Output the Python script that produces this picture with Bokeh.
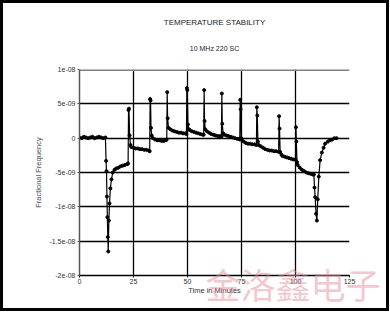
from bokeh.plotting import figure
from bokeh.models import FixedTicker, Span, Title, InlineStyleSheet
from bokeh.embed import file_html
from bokeh.resources import INLINE

# ---- data (time in minutes, fractional frequency in units of 1e-9) ----
time_min = [
    0, 1, 2, 3, 4, 5, 6, 7, 8, 9, 10, 11, 12,
    12.3, 12.5, 12.7, 12.9, 13.1, 13.3, 13.6, 13.9, 14.3, 14.8, 15.4, 16.2, 17, 18, 19, 20, 21, 22, 22.5,
    22.7, 22.9, 23.2, 23.6, 24, 25, 26, 27, 28, 29, 30, 31, 32, 32.5,
    32.7, 32.9, 33.1, 33.4, 34, 35, 36, 37, 38, 39, 40, 40.4,
    40.6, 40.8, 41.2, 42, 43, 44, 45, 46, 47, 48, 49, 49.5,
    49.7, 49.9, 50.2, 50.6, 51, 52, 53, 54, 55, 56, 57, 57.5,
    57.7, 57.9, 58.2, 59, 60, 61, 62, 63, 64, 65, 65.7,
    65.9, 66.1, 66.5, 67, 68, 69, 70, 71, 72, 73, 74, 74.2,
    74.4, 74.6, 74.9, 75.5, 76, 77, 78, 79, 80, 81, 81.9,
    82.1, 82.3, 82.6, 83, 84, 85, 86, 87, 88, 89, 90, 91, 92.2,
    92.4, 92.6, 92.9, 93.5, 94, 95, 96, 97, 98, 99, 100,
    100.2, 100.4, 100.7, 101, 102, 103, 104, 105, 106, 107, 108, 108.5,
    108.8, 109.1, 109.5, 109.9, 110.3, 110.8, 111.4, 112.2, 113, 113.7, 115, 116, 117, 118, 119,
]
frac_e9 = [
    0.1, 0.0, 0.2, 0.1, 0.0, 0.1, 0.2, 0.0, 0.1, 0.2, 0.1, 0.0, 0.1,
    -3.3, -4.8, -8.5, -11.5, -14.4, -16.5, -12.0, -9.5, -7.3, -6.0, -5.0, -4.6, -4.4, -4.3, -4.1, -4.0, -3.9, -3.8, -3.7,
    4.1, 4.3, 0.4, -1.0, -1.3, -1.4, -1.5, -1.5, -1.6, -1.6, -1.7, -1.7, -1.8, -1.9,
    5.7, 5.5, 1.5, 0.4, 0.0, -0.2, -0.3, -0.3, -0.4, -0.4, -0.3, -0.2,
    6.7, 2.9, 1.5, 1.3, 1.1, 1.0, 0.9, 0.8, 0.8, 0.7, 0.7, 0.6,
    7.3, 7.0, 2.0, 1.3, 1.2, 1.0, 0.9, 0.8, 0.7, 0.6, 0.5, 0.5,
    7.0, 2.5, 1.3, 1.0, 0.8, 0.6, 0.5, 0.4, 0.3, 0.3, 0.2,
    6.5, 2.1, 0.7, 0.5, 0.4, 0.3, 0.2, 0.1, 0.0, -0.1, -0.1, -0.2,
    5.6, 4.2, 0.0, -0.4, -0.5, -0.7, -0.8, -0.8, -0.9, -0.9, -1.0,
    4.5, 3.3, -0.5, -1.0, -1.2, -1.4, -1.6, -1.7, -1.8, -1.8, -1.9, -1.9, -2.0,
    3.2, 1.4, -2.0, -2.4, -2.6, -2.7, -2.8, -2.9, -3.0, -3.1, -3.1,
    1.6, -0.5, -3.5, -3.9, -4.3, -4.6, -4.8, -5.0, -5.1, -5.2, -5.3, -5.3,
    -7.2, -8.6, -11.0, -12.0, -8.9, -5.6, -3.2, -2.1, -1.4, -0.8, -0.5, -0.3, -0.2, 0.0, 0.0,
]
x_ticks = [0, 25, 50, 75, 100, 125]
y_ticks = [-20, -15, -10, -5, 0, 5, 10]
y_tick_labels = ["-2e-08", "-1.5e-08", "-1e-08", "-5e-09", "0", "5e-09", "1e-08"]
title_text = "TEMPERATURE STABILITY"
subtitle_text = "10 MHz 220 SC"
x_label = "Time in Minutes"
y_label = "Fractional Frequency"
watermark_text = "金洛鑫电子"

FONT = "Liberation Sans"

p = figure(frame_width=270, frame_height=206,
           min_border_left=79, min_border_right=41, min_border_top=69, min_border_bottom=37,
           x_range=(0, 125), y_range=(-20, 10),
           output_backend="svg", toolbar_location=None,
           background_fill_color="white", border_fill_color="white")
p.outline_line_color = None
# thin black frame round the whole picture, drawn over everything
p.stylesheets = [InlineStyleSheet(css=(
    ":host { position: relative; }"
    ":host::after { content: ''; position: absolute; left: 0; top: 0; width: 389px; height: 311px;"
    " box-sizing: border-box; border: 3px solid #000; pointer-events: none; z-index: 1000; }"
))]

# axes
p.xaxis.ticker = FixedTicker(ticks=x_ticks)
p.yaxis.ticker = FixedTicker(ticks=y_ticks)
p.yaxis.major_label_overrides = dict(zip(y_ticks, y_tick_labels))
for ax in (p.xaxis[0], p.yaxis[0]):
    ax.minor_tick_line_color = None
    ax.major_tick_in = 0
    ax.major_tick_out = 2
    ax.major_label_text_font = FONT
    ax.major_label_text_font_size = "7px"
    ax.major_label_text_color = "#333333"
    ax.axis_label_text_font = FONT
    ax.axis_label_text_font_size = "7.5px"
    ax.axis_label_text_font_style = "normal"
    ax.axis_label_text_color = "#333333"
    ax.major_label_standoff = 2
p.xaxis.axis_label = x_label
p.yaxis.axis_label = y_label
p.xaxis.axis_line_color = "black"
p.xaxis.axis_line_width = 1.5
p.xaxis.major_tick_line_color = "black"
p.xaxis.major_label_standoff = 1
p.yaxis.axis_line_color = "#555555"
p.yaxis.axis_line_width = 1.5
p.yaxis.major_tick_line_color = "#555555"
p.xaxis.axis_label_standoff = -1
p.yaxis.axis_label_standoff = 3
p.yaxis.axis_label_text_color = "#4a5060"

# grid
p.xgrid.ticker = FixedTicker(ticks=[25, 50, 75, 100, 125])
p.ygrid.ticker = FixedTicker(ticks=[-15, -10, -5, 0, 5])
p.grid.grid_line_color = "black"
p.grid.grid_line_width = 1.3
p.add_layout(Span(location=10, dimension="width", line_color="#808080", line_width=3))

# watermark (in the panel below the x axis, pulled up over it)
p.add_layout(Title(text=watermark_text, align="right", offset=-31, vertical_align="top", standoff=-80,
                   text_font="Noto Sans CJK SC", text_font_size="35px", text_font_style="normal",
                   text_color="#e8909c", text_alpha=0.5), "below")

# titles (subtitle first = nearest the frame)
p.add_layout(Title(text=subtitle_text, align="center", standoff=35,
                   text_font=FONT, text_font_size="7px", text_font_style="normal",
                   text_color="#222222"), "above")
p.add_layout(Title(text=title_text, align="center", standoff=-3,
                   text_font=FONT, text_font_size="8px", text_font_style="normal",
                   text_color="#222222"), "above")

# series
p.line(time_min, frac_e9, line_color="black", line_width=1.2)
p.scatter(time_min, frac_e9, size=3, marker="circle", fill_color="black", line_color="black")

open("out.html", "w").write(file_html(p, INLINE))
